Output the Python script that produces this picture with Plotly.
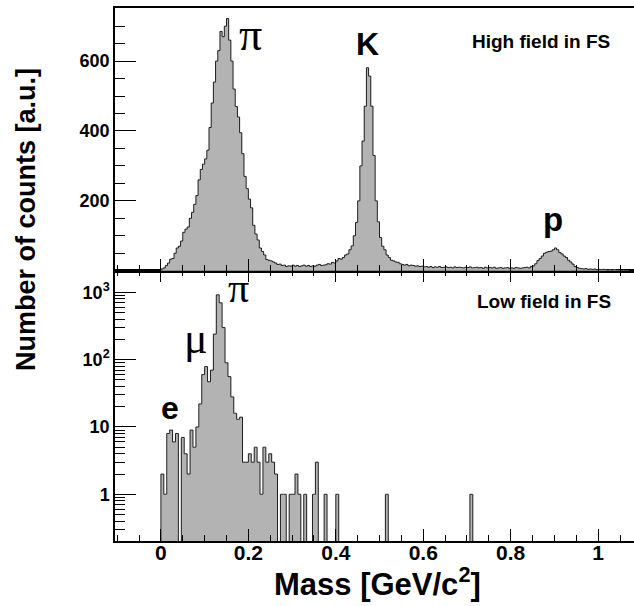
import plotly.graph_objects as go

# ---------------- data ----------------
# High field in FS: histogram, bins of width 0.005 GeV/c^2 starting at 0
high_start = 0.0
high_width = 0.005
high_counts = [
    5, 8, 15, 22, 33, 35, 50, 65, 70, 85,
    110, 119, 125, 150, 167, 190, 215, 260, 290, 305,
    320, 345, 410, 480, 540, 600, 630, 685, 670, 700,
    722, 660, 600, 520, 470, 440, 395, 335, 270, 235,
    205, 180, 130, 105, 88, 65, 55, 45, 32, 30,
    28, 25, 22, 18, 19, 15, 16, 12, 14, 13,
    16, 13, 15, 12, 14, 16, 13, 15, 12, 14,
    13, 16, 18, 15, 16, 17, 20, 19, 24, 22,
    28, 35, 33, 38, 45, 48, 60, 71, 100, 138,
    200, 300, 371, 471, 581, 557, 471, 330, 200, 140,
    95, 70, 60, 45, 38, 30, 28, 25, 24, 20,
    18, 16, 18, 14, 16, 15, 13, 14, 12, 13,
    11, 12, 10, 12, 9, 11, 10, 12, 9, 10,
    11, 9, 10, 8, 11, 9, 10, 9, 8, 10,
    9, 11, 8, 9, 10, 8, 9, 7, 10, 8,
    9, 8, 10, 7, 8, 9, 7, 8, 9, 7,
    8, 7, 9, 8, 7, 8, 9, 10, 8, 12,
    14, 20, 29, 35, 42, 50, 53, 55, 56, 60,
    65, 60, 52, 48, 42, 38, 30, 25, 19, 12,
    9, 7, 6, 5, 6, 4, 5, 4, 5, 3,
    4, 3, 4, 3, 2, 3, 2, 3, 2, 2, 1, 2, 1, 1,
]

# Low field in FS: histogram, bins of width 1/150 GeV/c^2 starting at 0
low_start = 0.0
low_width = 1.0 / 150.0
low_counts = [
    2, 1, 8, 9, 6, 8, 0, 7, 4, 2,
    9, 5, 10, 22, 60, 79, 47, 70, 240, 920,
    700, 300, 90, 56, 28, 16, 13, 14, 3, 3,
    4, 3, 5, 3, 1, 5, 3, 4, 3, 2,
    0, 1, 1, 0, 1, 1, 2, 1, 0, 1,
    0, 0, 1, 3, 0, 0, 1, 0, 0, 0,
    1, 0, 0, 0, 0, 0, 0, 0, 0, 0,
    0, 0, 0, 0, 0, 0, 0, 1, 0, 0,
    0, 0, 0, 0, 0, 0, 0, 0, 0, 0,
    0, 0, 0, 0, 0, 0, 0, 0, 0, 0,
    0, 0, 0, 0, 0, 0, 1, 0,
]

high_ticks = [200, 400, 600]
low_ticks = [1, 10, 100, 1000]
low_ticktext = ["1", "10", "10<sup>2</sup>", "10<sup>3</sup>"]

# ---------------- helpers ----------------
FILL = "#b3b3b3"
EDGE = "#1e1e1e"
FONT = "Liberation Sans"


def hist_traces(start, width, counts, xa, ya, floor):
    n = len(counts)
    edges = [start + i * width for i in range(n + 1)]
    centers = [start + (i + 0.5) * width for i in range(n)]
    bar_y = [c if c > 0 else None for c in counts]
    bar = go.Bar(x=centers, y=bar_y, width=[width] * n,
                 marker=dict(color=FILL, line=dict(width=0)),
                 xaxis=xa, yaxis=ya, showlegend=False, hoverinfo="skip")
    vals = [c if c > 0 else floor for c in counts]
    sx = [edges[0]] + edges[:-1] + [edges[-1], edges[-1]]
    sy = [floor] + vals + [vals[-1], floor]
    line = go.Scatter(x=sx, y=sy, mode="lines", line=dict(color=EDGE, width=1, shape="hv"),
                      xaxis=xa, yaxis=ya, showlegend=False, hoverinfo="skip")
    return [bar, line]


fig = go.Figure()
for t in hist_traces(high_start, high_width, high_counts, "x2", "y2", 0):
    fig.add_trace(t)
for t in hist_traces(low_start, low_width, low_counts, "x", "y", 1e-3):
    fig.add_trace(t)

split = 0.5071
xrange = [-0.105, 1.082]

xcommon = dict(range=xrange, showgrid=False, zeroline=False, showline=True,
               linecolor="black", linewidth=1.5, ticks="inside", tick0=0, dtick=0.2,
               ticklen=12, tickwidth=1, tickcolor="black",
               minor=dict(ticks="inside", tick0=0, dtick=0.05, ticklen=6, tickcolor="black"))

fig.update_layout(
    width=634, height=606,
    margin=dict(l=115, r=0, t=8, b=65),
    paper_bgcolor="white", plot_bgcolor="white",
    bargap=0, barmode="overlay",
    xaxis=dict(**xcommon, anchor="y", mirror="ticks", ticklabelstandoff=-8,
               tickfont=dict(family=FONT, size=21, color="black", weight="bold")),
    xaxis2=dict(**xcommon, anchor="y2", matches="x", mirror=True, showticklabels=False),
    yaxis=dict(domain=[0, split], type="log", range=[-0.694, 3.322],
               tickmode="array", tickvals=low_ticks, ticktext=low_ticktext,
               showgrid=False, zeroline=False, showline=True, linecolor="black", linewidth=1.5,
               ticks="inside", ticklen=21, tickwidth=1, tickcolor="black",
               minor=dict(ticks="inside", tickmode="array", ticklen=10, tickcolor="black",
                          tickvals=[0.3, 0.4, 0.5, 0.6, 0.7, 0.8, 0.9,
                                    2, 3, 4, 5, 6, 7, 8, 9,
                                    20, 30, 40, 50, 60, 70, 80, 90,
                                    200, 300, 400, 500, 600, 700, 800, 900, 2000]),
               tickfont=dict(family=FONT, size=18, color="black", weight="bold")),
    yaxis2=dict(domain=[split, 1], range=[0, 752],
                tickmode="array", tickvals=high_ticks,
                showgrid=False, zeroline=False, showline=True, linecolor="black", linewidth=1.5,
                ticks="inside", ticklen=21, tickwidth=1, tickcolor="black",
                minor=dict(ticks="inside", tick0=0, dtick=50, ticklen=10, tickcolor="black"),
                tickfont=dict(family=FONT, size=18, color="black", weight="bold")),
)

ann = []
# axis titles
ann.append(dict(text="Number of counts [a.u.]", xref="paper", yref="paper",
                x=-0.1715, y=0.604, xanchor="center", yanchor="middle", textangle=-90,
                showarrow=False, font=dict(family=FONT, size=27, color="black", weight="bold")))
ann.append(dict(text="Mass [GeV/c<sup>2</sup>]", xref="paper", yref="paper",
                x=0.505, y=-0.0770, xanchor="center", yanchor="middle",
                showarrow=False, font=dict(family=FONT, size=31, color="black", weight="bold")))
# panel labels
ann.append(dict(text="High field in FS", xref="paper", yref="paper",
                x=0.9576, y=0.9368, xanchor="right", yanchor="middle",
                showarrow=False, font=dict(family=FONT, size=19, color="black", weight="bold")))
ann.append(dict(text="Low field in FS", xref="paper", yref="paper",
                x=0.959, y=0.449, xanchor="right", yanchor="middle",
                showarrow=False, font=dict(family=FONT, size=19, color="black", weight="bold")))
# particle labels
ann.append(dict(text="π", xref="x2", yref="y2", x=0.204, y=676, showarrow=False,
                font=dict(family="Liberation Serif", size=46, color="black")))
ann.append(dict(text="K", xref="x2", yref="y2", x=0.4725, y=648, showarrow=False,
                font=dict(family=FONT, size=32, color="black", weight="bold")))
ann.append(dict(text="p", xref="x2", yref="y2", x=0.897, y=146, showarrow=False,
                font=dict(family=FONT, size=33, color="black", weight="bold")))
ann.append(dict(text="π", xref="x", yref="y", x=0.1785, y=3.065, showarrow=False,
                font=dict(family="Liberation Serif", size=42, color="black")))
ann.append(dict(text="μ", xref="x", yref="y", x=0.080, y=2.31, showarrow=False,
                font=dict(family="Liberation Serif", size=44, color="black")))
ann.append(dict(text="e", xref="x", yref="y", x=0.0206, y=1.285, showarrow=False,
                font=dict(family=FONT, size=32, color="black", weight="bold")))
fig.update_layout(annotations=ann)

fig.write_html("out.html")
